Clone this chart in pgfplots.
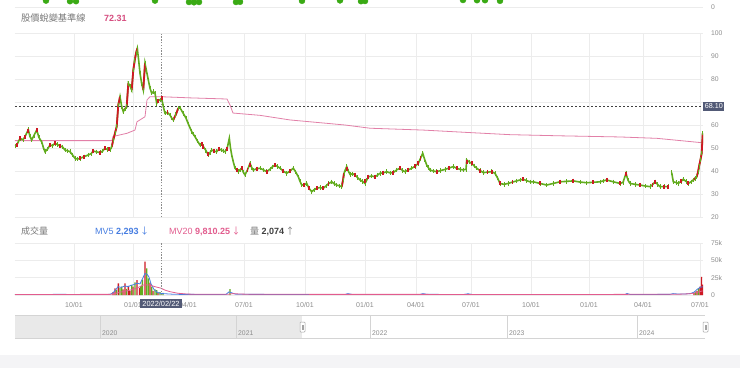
\documentclass[border=0pt]{standalone}
\usepackage{pgfplots}
\pgfplotsset{compat=1.18}
\usepackage{fontspec}
\setmainfont{Liberation Sans}
\newfontfamily\cjk{Noto Sans CJK TC}
\definecolor{cgreen}{RGB}{98,172,30}
\definecolor{cred}{RGB}{205,25,35}
\definecolor{topgreen}{RGB}{58,170,20}
\definecolor{refpink}{RGB}{226,128,168}
\definecolor{pinktext}{RGB}{214,78,128}
\definecolor{mvblue}{RGB}{70,125,225}
\definecolor{mvpink}{RGB}{226,92,142}
\definecolor{gridgray}{RGB}{236,236,236}
\definecolor{tickgray}{RGB}{140,140,140}
\definecolor{titlegray}{RGB}{120,120,120}
\definecolor{boxcol}{RGB}{82,90,118}
\definecolor{bandgray}{RGB}{244,244,246}
\definecolor{navgray}{RGB}{233,233,233}
\definecolor{navline}{RGB}{212,212,212}
\pgfplotstableread{
x y
15 50.9
17 51.5
20 54.2
23 53.6
25 54.9
28.3 58
30 55
31.7 53.5
34 55.5
36.7 57.8
39 54.5
41.7 52.7
43.5 50
45 48.4
47.5 49.5
50 51.3
52.5 51
55 52
57.5 51.5
60 50.9
62.5 50.5
65 49.1
67.5 48.8
70 48.4
72.5 47
75 45.5
77.5 45.2
80 45.5
84 46.2
88.3 47
91 47.5
93.3 48.7
96.5 48.3
100 48
102.5 48.6
105 49.9
107.5 49.3
110 49.1
111.7 50.5
113.3 53.5
115 56.5
116.7 59.3
118.3 68.7
120 72.3
121.7 68
123.3 65.8
125 67
126.7 67.96
128.3 78.1
130 77
131.7 75.2
133.3 83.9
134.7 88
136 91.2
137.3 93.3
138.7 88
140 82.5
141.7 78
143.3 75.2
145 86.8
146.7 83
148.3 79.6
150 76
151.7 73.8
153.3 74.5
155 73.8
156.7 69.4
158.3 70.5
160 71
161.7 71.6
163.3 68
165 65.1
167.5 65.5
170 64.3
171.7 63
173.3 62.2
175.8 64.5
178.3 67.3
180 67.5
183.3 65
186 63
188.3 60.5
191.7 57.1
193.3 56
195 54.9
197.5 53
200 51.3
201.7 51.8
203.3 50.6
205.8 49
208.3 47
210 48
211.7 49.1
214 48.6
216.7 48.4
219 49.5
221.7 49.1
223.3 48.7
225 48.4
227 49.5
229.3 54.2
230.5 50
231.7 47
233.3 44
235 41.2
236.7 40.5
238.3 39.7
240 40.5
241.7 41.2
243.3 39.5
245 38.3
247.5 40.5
250 43.3
251.7 41.5
253.3 40.4
256.7 41
260 41.2
263.3 40.5
266.7 39.7
270 40.8
272.5 41.8
275 42.6
277.5 42
280 41.2
283.3 40
286.7 39
290 40
293.3 41.2
295.8 39.5
298.3 37.5
300 35.5
301.7 33.9
304 34
306.7 34.6
309 32.5
311.7 31
314 31.8
316.7 32.5
320 32.8
323.3 32.5
326 33.5
328.5 34.5
331.7 35.3
334 34.5
336.7 33.9
339 33.6
341.7 33.2
343 36
344 39
345.3 40.5
346.7 41.9
348.3 40
350 38.5
352.5 38.8
355 38.3
357.5 37.2
360 36.1
362.5 35.5
365 34.6
366.7 36
368.3 37.5
371.7 37.8
375 37.5
377.5 38.2
380 39
383.3 39.2
386.7 39.7
390 39.2
393.3 39.3
396.7 40.5
400 41.2
402.5 40.2
405 39.7
408.3 40.5
411.7 41.2
415 42
418.3 43.3
420.5 45.5
422.7 47.7
424.7 45
426.7 42.6
428.3 41.5
430 40.4
433.3 40
436.7 39.7
440.8 40.2
445 40.7
449 41.3
453.3 41.9
456.7 41.2
460 40.7
463 40.5
466 40.7
466.7 44.8
469 44
471.7 43.3
474 42.3
476.7 41.2
480 40.2
483.3 39.3
487.5 39.5
491.7 39.7
495 39
497.5 37
500 34.6
504 34.2
508.3 34.6
512.5 35.2
516.7 35.7
520 36.1
523.3 36.4
526.7 35.8
530 35.3
533.3 35.3
540 34.6
546.7 33.9
553.3 34.6
560 35.3
566.7 35.5
573.3 35.7
580 35.2
586.7 34.9
593.3 35.1
600 35.3
603.3 35.7
606.7 36.1
613.3 35.3
620 34.6
623 35
626 39
628 36
630 34.6
635 34.2
640 33.9
645 33.5
650 33.2
652.5 34
655 35.3
657.5 34.2
660 33.2
664 33.2
668.3 33.2
669.5 nan
671.7 39.3
673.3 35.3
676 35
678.3 34.6
681 35.5
683.3 36.4
686 35.5
688.3 34.6
691 35.3
693.3 36.1
695 36.8
696.7 37.5
698 39.5
699 41.9
700.5 45
701.7 47.7
702.7 56.4
}\pricetable
\begin{document}
\begin{tikzpicture}
\useasboundingbox (0pt,0pt) rectangle (740pt,368pt);
\fill[white] (0pt,0pt) rectangle (740pt,368pt);
\fill[bandgray] (0pt,0pt) rectangle (740pt,13pt);
\pgfplotsset{panel/.style={scale only axis, width=688pt, xmin=15, xmax=703,
  axis line style={draw=none}, major tick length=0pt,
  major grid style={gridgray, line width=0.6pt},
  yticklabel pos=right,
  yticklabel style={font=\fontsize{6.8}{8}\selectfont, text=tickgray, anchor=west, xshift=4.5pt},
  xticklabel style={font=\fontsize{7}{8}\selectfont, text=tickgray, yshift=-4pt},
  /pgf/number format/assume math mode=true, clip=true}}
% top strip
\begin{axis}[panel, at={(15pt,361pt)}, anchor=south west, height=7pt, ymin=0, ymax=7, ytick={0}, ymajorgrids, xtick=\empty]
\addplot[only marks, mark=*, mark size=3pt, color=topgreen,
  error bars/.cd, y dir=plus, y fixed=20, error mark=none,
  error bar style={line width=4pt, topgreen}]
coordinates {(46,6.4)(70,5.8)(76,5.8)(155,6.4)(189,5)(194,4.7)(199,5)(236,5)(240,5.2)(302,6.2)(340,6.6)(361,5.8)(365,6)(430,7.4)(438,8)(463,7)(477,6.8)(485,6.8)(500,6.2)(537,7.8)(582,7.8)(620,7.8)(665,7.7)};
\end{axis}
% price panel
\begin{axis}[panel, at={(15pt,151pt)}, anchor=south west, height=184pt, ymin=20, ymax=100,
  ytick={20,30,40,50,60,80,90,100}, extra y ticks={70}, extra y tick labels={},
  ymajorgrids, xmajorgrids,
  xtick={74,133,188,244,305,365,416,471,531,589,643,700}, xticklabels={},
  unbounded coords=jump]
\addplot[refpink, line width=0.8pt] coordinates {(15,53.2)(112,53.2)(113,55)(127,56.4)(135,57.8)(137,61.4)(145,63.6)(147,70.9)(150,72.3)(161,72.3)(190,71.8)(227,71.3)(230,68.7)(233,65.2)(260,64.2)(290,62.2)(320,61)(345,60)(370,58.6)(423,57.8)(470,56.7)(510,55.8)(560,55.3)(620,54.8)(657,54.2)(702,52.3)};
\addplot[cgreen, line width=1.6pt] table[x=x, y=y] {\pricetable};
\addplot[only marks, mark=|, mark size=2.2pt, mark options={line width=0.7pt, draw=cgreen}] table[x=x, y=y] {\pricetable};
\addplot[cred, line width=1.8pt] coordinates {
(111.7,50.5)(113.3,53.5)(115,56.5)(116.7,59.3)(118.3,68.7)(120,72.3)(120.5,nan)
(125,67)(126.7,67.96)(128.3,78.1)(129,nan)
(131.7,75.2)(133.3,83.9)(134.7,88)(136,91.2)(137.3,93.3)(138,nan)
(143.3,75.2)(145,86.8)(145.5,nan)
(173.3,62.2)(175.8,64.5)(178.3,67.3)(179,nan)
(341.7,33.2)(343,36)(344,39)(344.5,nan)
(693.3,36.1)(695,36.8)(696.7,37.5)(698,39.5)(699,41.9)(700.5,45)(701.7,47.7)(702.7,56.4)};
\addplot[only marks, mark=|, mark size=2pt, mark options={line width=1.8pt, draw=cred}] coordinates {
(17,51.5)(20,54.2)(25,54.9)(28.3,57.5)(36.7,57.8)(50,51.3)(55,52)(60,51)(80,45.5)(84,46.2)(93.3,48.7)(100,48)(105,49.9)(109,49.5)
(158.3,70.5)(161.7,71.6)(167.5,65.5)(201.7,51.8)(203.3,50.6)(208.3,47.5)(214,48.6)(219,49.5)(227,49.5)(236.7,40.5)(241.7,41.2)(247.5,40.5)(250,42.5)(256.7,41)(266.7,39.7)(275,42.6)(283.3,40)(290,40)(304,34)(309,32.5)(316.7,32.5)(323.3,32.5)(328.5,34.5)(346.7,41)(355,38.3)(365,35.5)(368.3,37.5)(375,37.5)(383.3,39.2)(393.3,39.3)(400,41.2)(408.3,40.5)(415,42)(418.3,43.3)(420.5,45.5)(436.7,39.7)(449,41.3)(456.7,41.2)(466.7,44)(471.7,43.3)(480,40.2)(487.5,39.5)(491.7,39.7)(500,34.6)(512.5,35.2)(523.3,36.4)(540,34.6)(560,35.3)(573.3,35.7)(593.3,35.1)(606.7,36.1)(620,34.6)(626,38.5)(640,33.9)(652.5,34)(655,35.3)(664,33.2)(668.3,33.2)(681,35.5)(688.3,34.6)};
\draw[black!75, line width=0.6pt, dash pattern=on 2pt off 2pt] (axis cs:15,68.1) -- (axis cs:703,68.1);
\draw[tickgray, line width=1pt, dash pattern=on 1.4pt off 1.4pt] (axis cs:161,20) -- (axis cs:161,100);
\end{axis}
% volume panel
\begin{axis}[panel, at={(15pt,73pt)}, anchor=south west, height=52pt, ymin=0, ymax=75,
  ytick={0,25,50,75}, yticklabels={0,25k,50k,75k}, ymajorgrids, xmajorgrids,
  xtick={74,133,188,244,305,365,416,471,531,589,643,700},
  xticklabels={10/01,01/01,04/01,07/01,10/01,01/01,04/01,07/01,10/01,01/01,04/01,07/01}]
\addplot[ybar, bar width=1.4, fill=cred, draw=none] coordinates {(113,4)(115,9.6)(118.3,16.8)(123,8)(125,16.8)(128.3,13)(130,6)(133,12)(137,21.6)(139.5,10)(145,48)(150,18)(153,6)(158,3)(694,3)(697,6)(700,12)(701.5,26)(702.7,15)};
\addplot[ybar, bar width=1.4, fill=cgreen, draw=none] coordinates {(116.5,7)(120,10)(121.7,12)(126.5,9)(131.7,14.4)(135,18.3)(140.8,13)(142.3,22)(146.7,38.5)(148.5,24)(151.7,12)(155,8)(156.7,7)(160,4)(163,3)(230,8.6)(695.5,5)(698.5,10)};
\addplot[mvblue, line width=0.8pt] coordinates {(15,0.7)(60,0.9)(100,0.7)(110,0.9)(113,3)(116,8)(118,12)(121,11)(125,13)(128,12)(131,14)(134,15)(137,17)(140,16)(142,22)(145,31)(147,30)(149,26)(151,16)(154,8)(157,4)(161,2.3)(165,1.8)(172,1.2)(180,0.9)(226,0.8)(229,4.5)(232,3)(236,1)(300,0.7)(345,0.7)(348,2)(352,0.8)(420,0.8)(423,2)(427,0.9)(464,0.8)(468,1.8)(472,0.8)(600,0.7)(625,0.8)(627,2.2)(630,0.8)(670,0.9)(673,2)(677,1.5)(685,1.5)(690,2)(694,4)(697,8)(700,11)(702.7,12)};
\addplot[mvpink, line width=0.8pt] coordinates {(15,0.8)(110,0.9)(115,2)(120,4)(125,5.5)(130,7)(135,9)(140,12)(143,14.4)(147,14.6)(150,14.4)(155,12)(161,9.8)(165,7)(170,4.8)(178,2.5)(187,1.4)(195,1)(228,1)(233,2)(240,1.4)(250,1)(350,0.9)(600,0.8)(680,1.2)(690,1.8)(695,3)(700,5)(702.7,6)};
\draw[tickgray, line width=1pt, dash pattern=on 1.4pt off 1.4pt] (axis cs:161,0) -- (axis cs:161,75);
\end{axis}
% headers
\node[anchor=west, inner sep=0pt, font=\cjk\fontsize{9.2}{10}\selectfont, text=titlegray] at (21pt,350pt) {股價蛻變基準線};
\node[anchor=west, inner sep=0pt, font=\bfseries\fontsize{9}{10}\selectfont, text=pinktext] at (104pt,350pt) {72.31};
\node[anchor=west, inner sep=0pt, font=\cjk\fontsize{9}{10}\selectfont, text=titlegray] at (21pt,137pt) {成交量};
\node[anchor=west, inner sep=0pt, font=\fontsize{9}{10}\selectfont, text=mvblue] at (95pt,137pt) {MV5 \textbf{2,293}\,{\cjk ↓}};
\node[anchor=west, inner sep=0pt, font=\fontsize{9}{10}\selectfont, text=mvpink] at (169pt,137pt) {MV20 \textbf{9,810.25}\,{\cjk ↓}};
\node[anchor=west, inner sep=0pt, font=\fontsize{9}{10}\selectfont, text=black!75] at (250pt,137pt) {{\cjk\color{titlegray}量} \textbf{2,074}\,{\cjk\color{titlegray}↑}};
% value boxes
\node[anchor=west, fill=boxcol, text=white, inner sep=1.6pt, font=\fontsize{7.2}{8}\selectfont] at (703pt,261.5pt) {68.10};
\node[fill=boxcol, text=white, inner xsep=2pt, inner ysep=1.6pt, font=\fontsize{7.4}{8}\selectfont] at (161pt,64.5pt) {2022/02/22};
% navigator
\fill[navgray] (15pt,30pt) rectangle (302pt,53pt);
\draw[navline, line width=0.6pt] (15pt,53pt) -- (705pt,53pt);
\draw[navline, line width=0.6pt] (15pt,30pt) -- (705pt,30pt);
\foreach \xx/\yy in {100/2020,236/2021,370/2022,507/2023,637/2024}{
  \draw[navline, line width=0.6pt] (\xx pt,30pt) -- (\xx pt,53pt);
  \node[anchor=west, inner sep=0pt, font=\fontsize{6.8}{8}\selectfont, text=tickgray] at (\xx pt+2pt,35pt) {\yy};
}
\foreach \hx in {302.5,705.5}{
  \draw[tickgray!80, fill=white, line width=0.5pt, rounded corners=0.8pt] (\hx pt-2.5pt,36pt) rectangle (\hx pt+2.5pt,46pt);
  \draw[tickgray!80, line width=0.4pt] (\hx pt-0.6pt,38.5pt) -- (\hx pt-0.6pt,43.5pt) (\hx pt+0.6pt,38.5pt) -- (\hx pt+0.6pt,43.5pt);
}
\end{tikzpicture}
\end{document}
